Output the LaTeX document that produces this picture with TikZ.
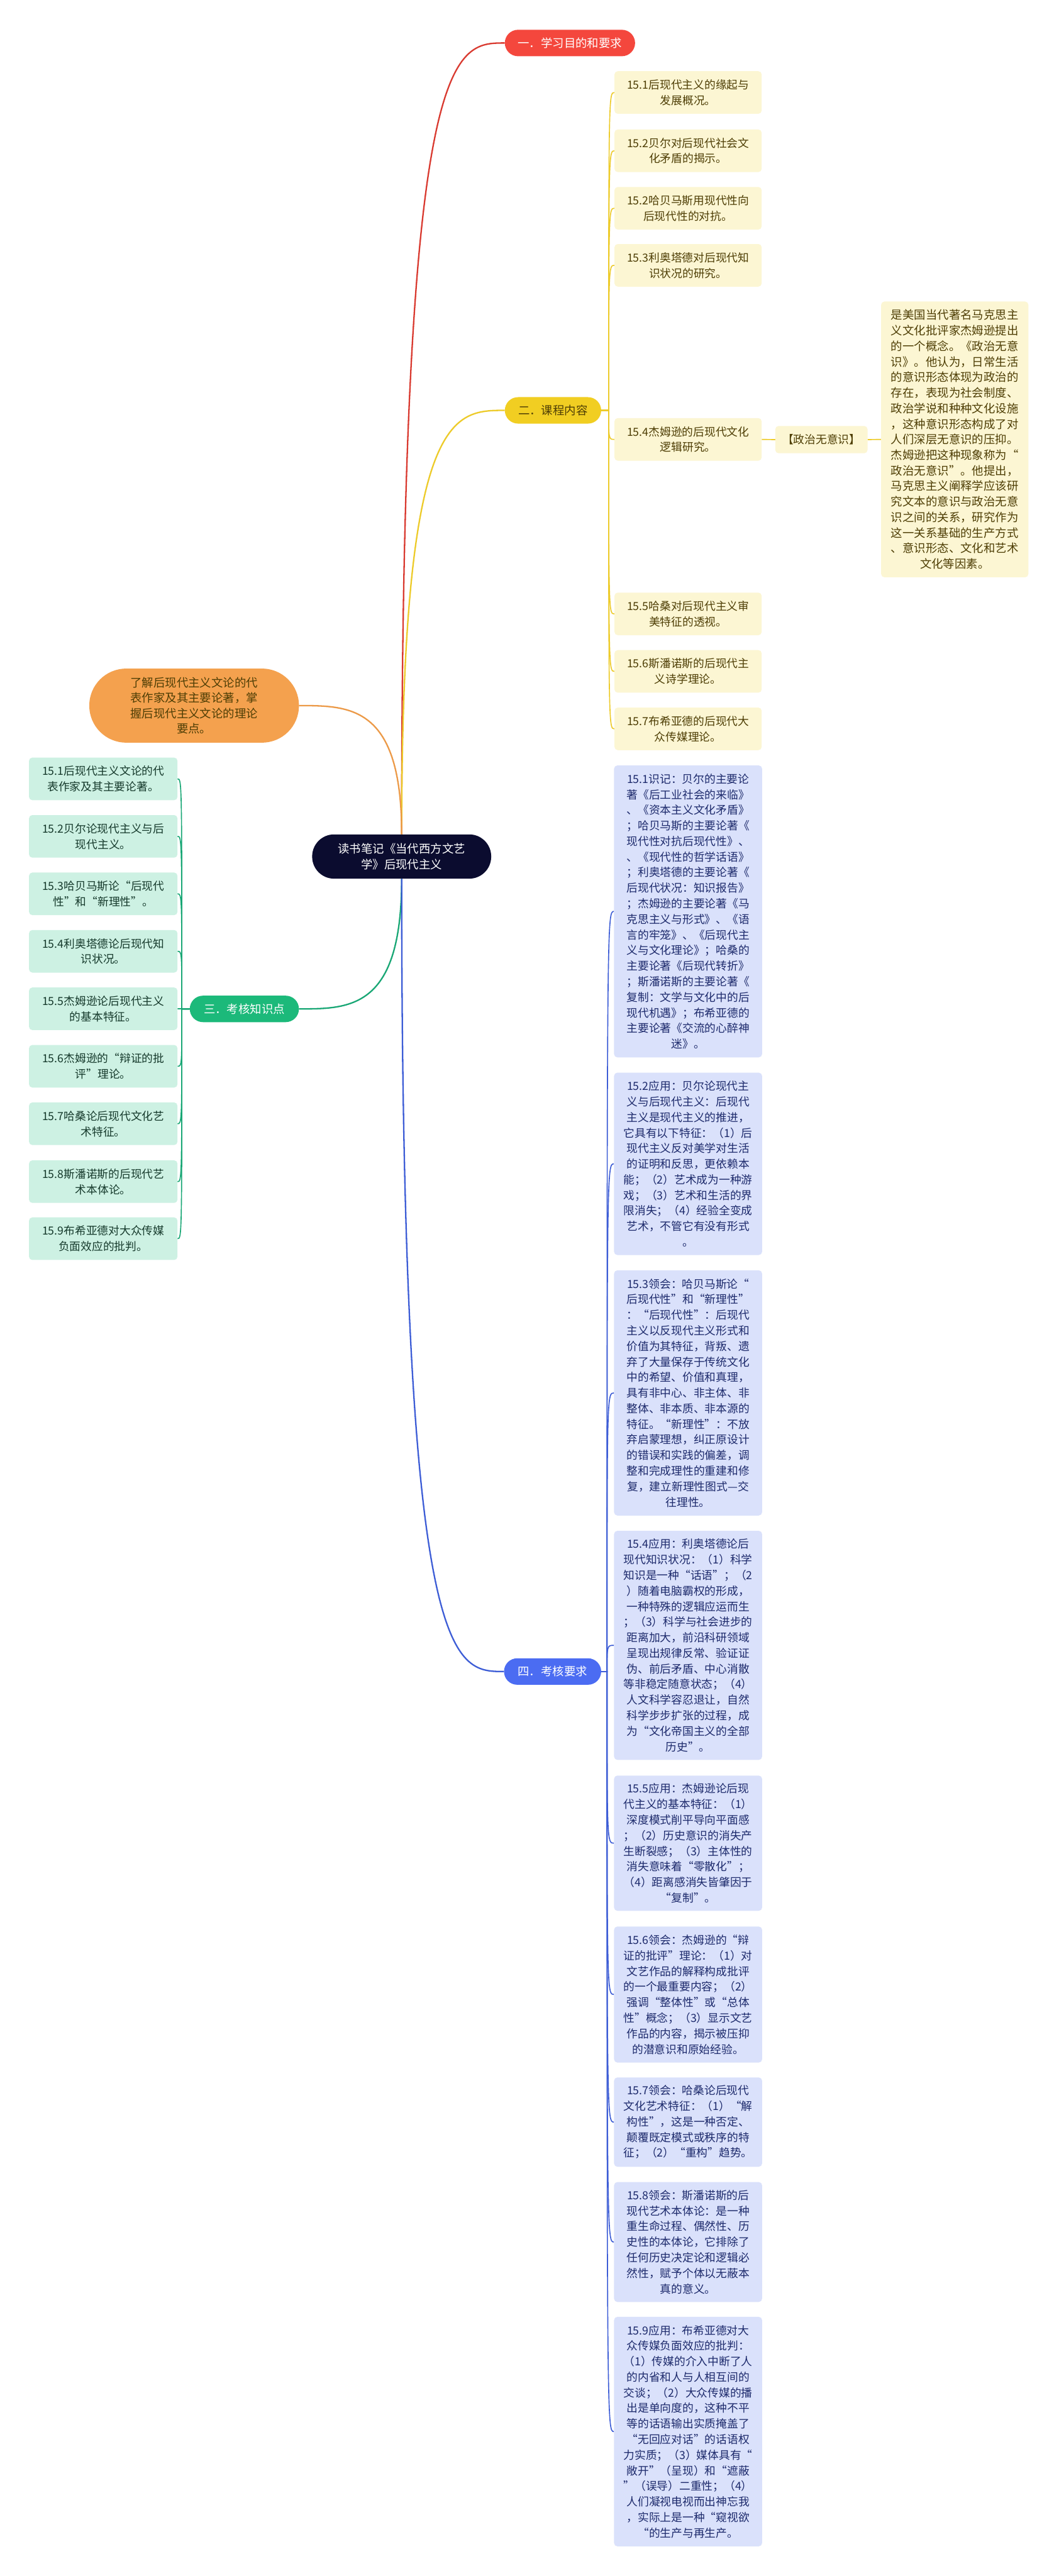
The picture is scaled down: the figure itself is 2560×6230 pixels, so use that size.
\documentclass[tikz,border=0pt]{standalone}
\usepackage{fontspec}
\setmainfont{Noto Sans CJK SC}
\usetikzlibrary{calc}
\pgfdeclarelayer{bg}
\pgfsetlayers{bg,main}
\definecolor{cred}{HTML}{F4473D}
\definecolor{credl}{HTML}{D93A30}
\definecolor{cyel}{HTML}{F1CE22}
\definecolor{cyell}{HTML}{EDCB2A}
\definecolor{cora}{HTML}{F4A14E}
\definecolor{coral}{HTML}{EC9A48}
\definecolor{cgrn}{HTML}{1CB97A}
\definecolor{cgrnl}{HTML}{19A775}
\definecolor{cblu}{HTML}{4B6CF2}
\definecolor{cblul}{HTML}{3D5DD6}
\definecolor{cnavy}{HTML}{0B0C2F}
\definecolor{yfill}{HTML}{FCF6D3}
\definecolor{ytext}{HTML}{4E3E05}
\definecolor{gfill}{HTML}{CDF1E3}
\definecolor{gtext}{HTML}{163A2C}
\definecolor{bfill}{HTML}{DAE1FB}
\definecolor{btext}{HTML}{1D2A6C}
\tikzset{
  leaf/.style={anchor=north west, inner sep=0pt, rounded corners=8pt, align=center, font=\fontsize{27}{37.7}\selectfont},
  yleaf/.style={leaf, fill=yfill, text=ytext, minimum width=356pt, minimum height=103pt},
  gleaf/.style={leaf, fill=gfill, text=gtext, minimum width=359pt, minimum height=103pt},
  bleaf/.style={leaf, fill=bfill, text=btext, minimum width=358pt},
  branch/.style={inner xsep=0pt, inner ysep=0pt, rounded corners=32pt, minimum height=64pt, align=center, font=\fontsize{28}{34}\selectfont},
  mainln/.style={line width=3.5pt},
  subln/.style={line width=2.5pt}
}
\begin{document}
\begin{tikzpicture}[x=1pt,y=-1pt]
\useasboundingbox (0,0) rectangle (2560,6230);
% central and branches
\node[fill=cnavy, text=white, rounded corners=53pt, minimum width=433pt, minimum height=107pt, inner sep=0pt, align=center, font=\fontsize{28}{37}\selectfont] (c) at (971.5,2071.5) {读书笔记《当代西方文艺\\学》后现代主义};
\node[branch, fill=cred, text=white, minimum width=315pt] (b1) at (1378.5,104) {一．学习目的和要求};
\node[branch, fill=cyel, text=ytext, minimum width=233pt] (b2) at (1337.5,992.5) {二．课程内容};
\node[branch, fill=cgrn, text=white, minimum width=264pt] (b3) at (591,2440) {三．考核知识点};
\node[branch, fill=cblu, text=white, minimum width=235pt] (b4) at (1336.5,4042.5) {四．考核要求};
\node[fill=cora, text=ytext, rounded corners=89pt, minimum width=507pt, minimum height=179pt, inner sep=0pt, align=center, font=\fontsize{28}{37.3}\selectfont] (o) at (469.5,1706.5) {了解后现代主义文论的代\\表作家及其主要论著，掌\\握后现代主义文论的理论\\要点。};
% branch 2 leaves
\node[yleaf] (y1) at (1486,172) {15.1后现代主义的缘起与\\发展概况。};
\node[yleaf] (y2) at (1486,313) {15.2贝尔对后现代社会文\\化矛盾的揭示。};
\node[yleaf] (y3) at (1486,452) {15.2哈贝马斯用现代性向\\后现代性的对抗。};
\node[yleaf] (y4) at (1486,590) {15.3利奥塔德对后现代知\\识状况的研究。};
\node[yleaf] (y5) at (1486,1011) {15.4杰姆逊的后现代文化\\逻辑研究。};
\node[yleaf] (y6) at (1486,1433) {15.5哈桑对后现代主义审\\美特征的透视。};
\node[yleaf] (y7) at (1486,1572) {15.6斯潘诺斯的后现代主\\义诗学理论。};
\node[yleaf] (y8) at (1486,1711) {15.7布希亚德的后现代大\\众传媒理论。};
\node[leaf, fill=yfill, text=ytext, minimum width=223pt, minimum height=66pt] (zz) at (1875,1030) {【政治无意识】};
\node[leaf, fill=yfill, text=ytext, minimum width=356pt, minimum height=667pt, font=\fontsize{28}{37.6}\selectfont] (big) at (2131,729) {是美国当代著名马克思主\\义文化批评家杰姆逊提出\\的一个概念。《政治无意\\识》。他认为，日常生活\\的意识形态体现为政治的\\存在，表现为社会制度、\\政治学说和种种文化设施\\，这种意识形态构成了对\\人们深层无意识的压抑。\\杰姆逊把这种现象称为“\\政治无意识”。他提出，\\马克思主义阐释学应该研\\究文本的意识与政治无意\\识之间的关系，研究作为\\这一关系基础的生产方式\\、意识形态、文化和艺术\\文化等因素。};
% branch 3 leaves
\node[gleaf] (g1) at (70,1832) {15.1后现代主义文论的代\\表作家及其主要论著。};
\node[gleaf] (g2) at (70,1971) {15.2贝尔论现代主义与后\\现代主义。};
\node[gleaf] (g3) at (70,2110) {15.3哈贝马斯论“后现代\\性”和“新理性”。};
\node[gleaf] (g4) at (70,2249) {15.4利奥塔德论后现代知\\识状况。};
\node[gleaf] (g5) at (70,2388) {15.5杰姆逊论后现代主义\\的基本特征。};
\node[gleaf] (g6) at (70,2527) {15.6杰姆逊的“辩证的批\\评”理论。};
\node[gleaf] (g7) at (70,2666) {15.7哈桑论后现代文化艺\\术特征。};
\node[gleaf] (g8) at (70,2806) {15.8斯潘诺斯的后现代艺\\术本体论。};
\node[gleaf] (g9) at (70,2944) {15.9布希亚德对大众传媒\\负面效应的批判。};
% branch 4 leaves
\node[bleaf, minimum height=706pt] (k1) at (1485,1851) {15.1识记：贝尔的主要论\\著《后工业社会的来临》\\、《资本主义文化矛盾》\\；哈贝马斯的主要论著《\\现代性对抗后现代性》、\\、《现代性的哲学话语》\\；利奥塔德的主要论著《\\后现代状况：知识报告》\\；杰姆逊的主要论著《马\\克思主义与形式》、《语\\言的牢笼》、《后现代主\\义与文化理论》；哈桑的\\主要论著《后现代转折》\\；斯潘诺斯的主要论著《\\复制：文学与文化中的后\\现代机遇》；布希亚德的\\主要论著《交流的心醉神\\迷》。};
\node[bleaf, minimum height=441pt] (k2) at (1485,2594) {15.2应用：贝尔论现代主\\义与后现代主义：后现代\\主义是现代主义的推进，\\它具有以下特征：（1）后\\现代主义反对美学对生活\\的证明和反思，更依赖本\\能；（2）艺术成为一种游\\戏；（3）艺术和生活的界\\限消失；（4）经验全变成\\艺术，不管它有没有形式\\。};
\node[bleaf, minimum height=593pt] (k3) at (1485,3072) {15.3领会：哈贝马斯论“\\后现代性”和“新理性”\\：“后现代性”：后现代\\主义以反现代主义形式和\\价值为其特征，背叛、遗\\弃了大量保存于传统文化\\中的希望、价值和真理，\\具有非中心、非主体、非\\整体、非本质、非本源的\\特征。“新理性”：不放\\弃启蒙理想，纠正原设计\\的错误和实践的偏差，调\\整和完成理性的重建和修\\复，建立新理性图式—交\\往理性。};
\node[bleaf, minimum height=554pt] (k4) at (1485,3702) {15.4应用：利奥塔德论后\\现代知识状况：（1）科学\\知识是一种“话语”；（2\\）随着电脑霸权的形成，\\一种特殊的逻辑应运而生\\；（3）科学与社会进步的\\距离加大，前沿科研领域\\呈现出规律反常、验证证\\伪、前后矛盾、中心消散\\等非稳定随意状态；（4）\\人文科学容忍退让，自然\\科学步步扩张的过程，成\\为“文化帝国主义的全部\\历史”。};
\node[bleaf, minimum height=327pt] (k5) at (1485,4294) {15.5应用：杰姆逊论后现\\代主义的基本特征：（1）\\深度模式削平导向平面感\\；（2）历史意识的消失产\\生断裂感；（3）主体性的\\消失意味着“零散化”；\\（4）距离感消失皆肇因于\\“复制”。};
\node[bleaf, minimum height=329pt] (k6) at (1485,4659) {15.6领会：杰姆逊的“辩\\证的批评”理论：（1）对\\文艺作品的解释构成批评\\的一个最重要内容；（2）\\强调“整体性”或“总体\\性”概念；（3）显示文艺\\作品的内容，揭示被压抑\\的潜意识和原始经验。};
\node[bleaf, minimum height=216pt] (k7) at (1485,5024) {15.7领会：哈桑论后现代\\文化艺术特征：（1）“解\\构性”，这是一种否定、\\颠覆既定模式或秩序的特\\征；（2）“重构”趋势。};
\node[bleaf, minimum height=290pt] (k8) at (1485,5277) {15.8领会：斯潘诺斯的后\\现代艺术本体论：是一种\\重生命过程、偶然性、历\\史性的本体论，它排除了\\任何历史决定论和逻辑必\\然性，赋予个体以无蔽本\\真的意义。};
\node[bleaf, minimum height=555pt] (k9) at (1485,5603) {15.9应用：布希亚德对大\\众传媒负面效应的批判：\\（1）传媒的介入中断了人\\的内省和人与人相互间的\\交谈；（2）大众传媒的播\\出是单向度的，这种不平\\等的话语输出实质掩盖了\\“无回应对话”的话语权\\力实质；（3）媒体具有“\\敞开”（呈现）和“遮蔽\\”（误导）二重性；（4）\\人们凝视电视而出神忘我\\，实际上是一种“窥视欲\\“的生产与再生产。};
% junctions
\coordinate (j2) at ($(b2.east)+(18,0)$);
\coordinate (j3) at ($(b3.west)+(-19,0)$);
\coordinate (j4) at ($(b4.east)+(14,0)$);
\begin{pgfonlayer}{bg}
\fill[white] (0,0) rectangle (2560,6230);
\draw[mainln, credl] (c.north) .. controls (c.north |- b1.west) and ($(c.north |- b1.west)!0.5!(b1.west)$) .. (b1.west);
\draw[mainln, cyell] (c.north) .. controls (c.north |- b2.west) and ($(c.north |- b2.west)!0.5!(b2.west)$) .. (b2.west);
\draw[mainln, coral] (c.north) .. controls (c.north |- o.east) and ($(c.north |- o.east)!0.5!(o.east)$) .. (o.east);
\draw[mainln, cgrnl] (c.south) .. controls (c.south |- b3.east) and ($(c.south |- b3.east)!0.5!(b3.east)$) .. (b3.east);
\draw[mainln, cblul] (c.south) .. controls (c.south |- b4.west) and ($(c.south |- b4.west)!0.5!(b4.west)$) .. (b4.west);
\foreach \n in {y1,y2,y3,y4,y5,y6,y7,y8}
  \draw[subln, cyell] (b2.east) -- (j2) .. controls (j2 |- \n.west) .. (\n.west);
\draw[subln, cyell] (y5.east) -- (zz.west);
\draw[subln, cyell] (zz.east) -- (big.west);
\foreach \n in {g1,g2,g3,g4,g5,g6,g7,g8,g9}
  \draw[subln, cgrnl] (b3.west) -- (j3) .. controls (j3 |- \n.east) .. (\n.east);
\foreach \n in {k1,k2,k3,k4,k5,k6,k7,k8,k9}
  \draw[subln, cblul] (b4.east) -- (j4) .. controls (j4 |- \n.west) .. (\n.west);
\end{pgfonlayer}
\end{tikzpicture}
\end{document}
